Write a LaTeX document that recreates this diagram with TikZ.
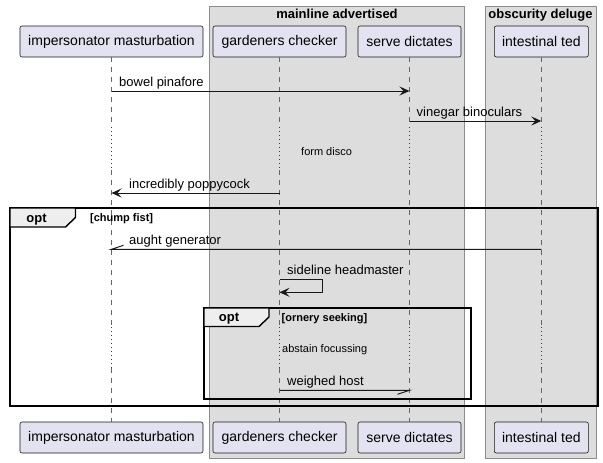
\documentclass[tikz,border=0pt]{standalone}
\usepackage{fontspec}
\setmainfont{Liberation Sans}
\usetikzlibrary{arrows.meta}
\definecolor{partfill}{HTML}{E2E2F0}
\definecolor{ink}{HTML}{181818}
\definecolor{boxfill}{HTML}{DDDDDD}
\definecolor{boxline}{HTML}{8C8C8C}
\definecolor{tabfill}{HTML}{EEEEEE}
\definecolor{lifecol}{HTML}{666666}
\definecolor{delaycol}{HTML}{A80036}
\tikzset{
  part/.style={draw=ink, fill=partfill, rounded corners=2pt, line width=0.6pt, minimum height=31pt, inner sep=0pt, font=\fontsize{14}{16}\selectfont},
  lifeline/.style={draw=lifecol, line width=0.7pt, dash pattern=on 5pt off 5pt},
  delayline/.style={draw=delaycol, line width=0.8pt, dash pattern=on 1pt off 3pt},
  msg/.style={draw=ink, line width=1pt, -{Stealth[length=10pt,width=9pt,inset=4pt]}},
  msgplain/.style={draw=ink, line width=1pt},
  msglabel/.style={anchor=base west, inner sep=0pt, font=\fontsize{13}{15}\selectfont},
  delaylabel/.style={anchor=base west, inner sep=0pt, font=\fontsize{11}{13}\selectfont},
  grouptitle/.style={anchor=base, inner sep=0pt, font=\bfseries\fontsize{13}{15}\selectfont},
  optframe/.style={draw=black, line width=1.8pt},
  opttab/.style={draw=black, fill=tabfill, line width=1.4pt},
  opttext/.style={anchor=base, inner sep=0pt, font=\bfseries\fontsize{13}{15}\selectfont},
  guardtext/.style={anchor=base west, inner sep=0pt, font=\bfseries\fontsize{11}{13}\selectfont}
}
\begin{document}
\begin{tikzpicture}[x=1pt,y=-1pt]
\useasboundingbox (0,0) rectangle (603,463);
% group boxes
\draw[boxline, fill=boxfill, line width=0.8pt] (209.5,6) rectangle (464.5,458);
\draw[boxline, fill=boxfill, line width=0.8pt] (485,6) rectangle (596,458);
\node[grouptitle] (g1) at (337,18) {mainline advertised};
\node[grouptitle] (g2) at (540.5,18) {obscurity deluge};
% participants
\node[part, minimum width=183pt] (pA) at (111.5,41.5) {impersonator masturbation};
\node[part, minimum width=133pt] (pB) at (279.5,41.5) {gardeners checker};
\node[part, minimum width=103pt] (pC) at (409.5,41.5) {serve dictates};
\node[part, minimum width=94pt] (pD) at (541.3,41.5) {intestinal ted};
\node[part, minimum width=183pt] (bA) at (111.5,437.5) {impersonator masturbation};
\node[part, minimum width=133pt] (bB) at (279.5,437.5) {gardeners checker};
\node[part, minimum width=103pt] (bC) at (409.5,437.5) {serve dictates};
\node[part, minimum width=94pt] (bD) at (541.3,437.5) {intestinal ted};
% lifelines
\foreach \t/\b in {pA/bA,pB/bB,pC/bC,pD/bD}{
  \draw[lifeline] (\t.south) -- (\t.south |- 0,127);
  \draw[delayline] (\t.south |- 0,127) -- (\t.south |- 0,170);
  \draw[lifeline] (\t.south |- 0,170) -- (\t.south |- 0,327);
  \draw[delayline] (\t.south |- 0,327) -- (\t.south |- 0,368);
  \draw[lifeline] (\t.south |- 0,368) -- (\b.north);
}
% messages
\draw[msg] (pA.south |- 0,91) -- (pC.south |- 0,91);
\node[msglabel] (l1) at (119,86) {bowel pinafore};
\draw[msg] (pC.south |- 0,121) -- (pD.south |- 0,121);
\node[msglabel] (l2) at (416.5,116) {vinegar binoculars};
\node[delaylabel] (d1) at (301,155) {form disco};
\draw[msg] (pB.south |- 0,193) -- (pA.south |- 0,193);
\node[msglabel] (l3) at (129,188) {incredibly poppycock};
% outer opt
\draw[optframe] (10,208) rectangle (598,406);
\draw[opttab] (10,208) -- (75.5,208) -- (75.5,217.5) -- (65.5,227) -- (10,227) -- cycle;
\node[opttext] (o1) at (36.5,222) {opt};
\node[guardtext] (c1) at (90,221) {[chump fist]};
\draw[msgplain] (pD.south |- 0,249.3) -- (pA.south |- 0,249.3) -- ++(12,-4);
\node[msglabel] (l4) at (129,244) {aught generator};
\draw[msg] (pB.south |- 0,279.3) -- ++(42.5,0) -- ++(0,13) -- (pB.south |- 0,292.3);
\node[msglabel] (l5) at (287,274) {sideline headmaster};
% inner opt
\draw[optframe] (204,308) rectangle (471,399);
\draw[opttab] (204,308) -- (269,308) -- (269,317) -- (259,326.5) -- (204,326.5) -- cycle;
\node[opttext] (o2) at (229,321.5) {opt};
\node[guardtext] (c2) at (281.5,321) {[ornery seeking]};
\node[delaylabel] (d2) at (282,352) {abstain focussing};
\draw[msgplain] (pB.south |- 0,390.3) -- (pC.south |- 0,390.3) -- ++(-12,4);
\node[msglabel] (l6) at (287,385) {weighed host};
\end{tikzpicture}
\end{document}
